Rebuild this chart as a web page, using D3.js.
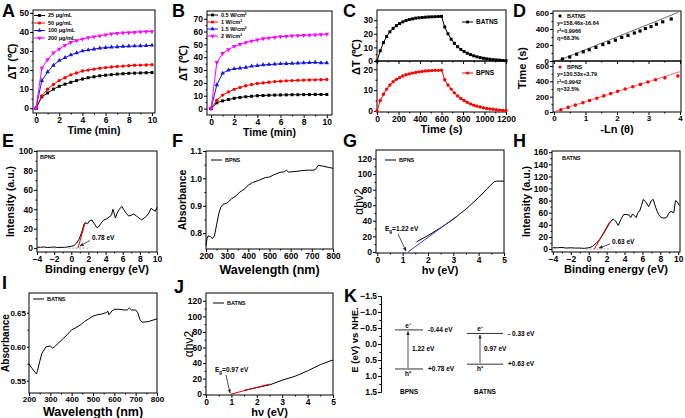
<!DOCTYPE html>
<html>
<head>
<meta charset="utf-8">
<script src="https://cdn.jsdelivr.net/npm/d3@7"></script>
<style>
  body { margin: 0; background: #fff; }
  svg { font-family: "Liberation Sans", Arial, sans-serif; font-weight: bold; }
  .tick text { font-size: 8.5px; font-weight: bold; fill: #000; font-family: "Liberation Sans", Arial, sans-serif; }
  .tick line { stroke: #000; }
  .lbl { font-size: 18px; font-weight: bold; }
  .tiny { font-size: 5.5px; font-weight: bold; }
  .note { font-size: 6.5px; font-weight: bold; }
</style>
</head>
<body>
<svg id="fig" width="685" height="418"></svg>
<script>
// ---- A: concentration series (time in min) ----
const timeMin = [0, 0.5, 1, 1.5, 2, 2.5, 3, 3.5, 4, 4.5, 5, 5.5, 6, 6.5, 7, 7.5, 8, 8.5, 9, 9.5, 10];
const concLabels = ["25 μg/mL", "50 μg/mL", "100  μg/mL", "200  μg/mL"];
const conc25 = [0, 6, 8, 10, 11.5, 12.6, 13.6, 14.5, 15.3, 16, 16.5, 17, 17.3, 17.6, 17.9, 18.1, 18.3, 18.4, 18.5, 18.6, 18.7];
const conc50 = [0, 6.5, 10, 12.5, 14.5, 16, 17.5, 18.5, 19.5, 20, 20.5, 21, 21.3, 21.6, 21.9, 22.1, 22.3, 22.5, 22.6, 22.7, 22.8];
const conc100 = [0, 14.5, 19, 22.5, 25, 26.5, 28, 29, 30, 30.5, 31, 31.5, 31.8, 32, 32.2, 32.4, 32.5, 32.6, 32.7, 32.8, 33];
const conc200 = [0, 21, 25.5, 29, 31, 33, 34.5, 35.5, 36.3, 37, 37.5, 38, 38.5, 39, 39.3, 39.5, 39.7, 39.8, 40, 40.2, 40.2];

// ---- B: power density series ----
const powerLabels = ["0.5 W/cm²", "1 W/cm²", "1.5 W/cm²", "2 W/cm²"];
const pow05 = [0, 4.5, 6, 7, 8, 8.7, 9.2, 9.6, 10, 10.2, 10.4, 10.5, 10.6, 10.7, 10.8, 10.8, 10.9, 10.9, 11, 11, 11];
const pow1 = [0, 6.5, 10.5, 13, 15, 16.5, 17.8, 18.8, 19.5, 20, 20.5, 21, 21.3, 21.6, 21.8, 22, 22.2, 22.3, 22.4, 22.5, 22.6];
const pow15 = [0, 18.5, 27.5, 30, 31, 31.5, 32, 33, 33.5, 34, 34.3, 34.6, 34.9, 35, 35.2, 35.4, 35.6, 35.8, 36, 35.6, 35.5];
const pow2 = [0, 36, 43, 46, 48.5, 50, 51.5, 52.5, 53.5, 54.5, 55, 55.5, 56, 56.3, 56.6, 56.8, 57, 57.2, 57.4, 57.6, 58];

// ---- C: heating / cooling cycle (s) ----
const timeSec = [0, 30, 60, 90, 120, 150, 180, 210, 240, 270, 300, 330, 360, 390, 420, 450, 480, 510, 540, 570, 600,
  630, 660, 690, 720, 750, 780, 810, 840, 870, 900, 930, 960, 990, 1020, 1050, 1080, 1110, 1140, 1170, 1200];
const batnsCycle = [0, 7.5, 13.5, 18, 21.5, 24, 26, 27.5, 28.8, 29.8, 30.5, 31, 31.5, 31.8, 32, 32.2, 32.4, 32.5, 32.6, 32.7, 32.8,
  25, 20, 16, 13, 10.5, 8.5, 7, 5.7, 4.7, 3.8, 3.1, 2.5, 2, 1.6, 1.3, 1, 0.8, 0.6, 0.4, 0.2];
const bpnsCycle = [0, 5, 8, 10.5, 12.5, 14, 15.2, 16, 16.8, 17.4, 17.8, 18.2, 18.5, 18.8, 19, 19.2, 19.3, 19.4, 19.5, 19.5, 19.6,
  15, 12.5, 10.5, 8.7, 7.2, 6, 5, 4.1, 3.4, 2.8, 2.3, 1.9, 1.5, 1.2, 1, 0.8, 0.6, 0.4, 0.3, 0.2];

// ---- D: -Ln(theta) vs time ----
const batnsLnX = [0.27, 0.5, 0.72, 0.93, 1.12, 1.33, 1.55, 1.74, 1.95, 2.15, 2.35, 2.55, 2.73, 2.9, 3.08, 3.25, 3.45, 3.72];
const batnsLnT = [25, 50, 85, 115, 140, 170, 205, 230, 260, 295, 320, 350, 375, 405, 430, 460, 490, 525];
const batnsFit = [158.46, -16.64];
const batnsFitText = ["BATNS", "y=158.46x-16.64", "r²=0.9966", "η=68.3%"];
const bpnsLnX = [0.22, 0.45, 0.68, 0.92, 1.13, 1.36, 1.58, 1.8, 2.02, 2.26, 2.5, 2.74, 2.98, 3.22, 3.52, 3.93];
const bpnsLnT = [30, 60, 90, 120, 150, 180, 210, 240, 270, 300, 330, 360, 390, 420, 445, 470];
const bpnsFit = [130.53, 3.79];
const bpnsFitText = ["BPNS", "y=130.53x+3.79", "r²=0.9942", "η=32.5%"];

// ---- E / H: valence band XPS ----
const bpnsXpsE = [-4, -3.6, -3.2, -2.8, -2.4, -2, -1.6, -1.2, -0.8, -0.4, 0, 0.3, 0.6, 0.9, 1.2, 1.5, 1.7, 1.9, 2.1, 2.4, 2.7, 3.0, 3.2, 3.5, 3.8, 4.1, 4.4, 4.7, 4.85, 5.0, 5.15, 5.35, 5.6, 5.9, 6.1, 6.4, 6.7, 7.0, 7.3, 7.6, 7.9, 8.2, 8.5, 8.8, 9.1, 9.3, 9.6, 9.8, 10];
const bpnsXpsI = [1, 0.8, 1.2, 0.6, 0.8, 1.2, 0.6, 0.8, 0.8, 1.2, 2, 2.5, 5, 9, 16, 25, 26, 25, 28, 29, 25, 21, 22, 26, 29, 30, 32, 34, 40, 36, 31, 36, 40, 43, 40, 36, 33, 34, 35, 33, 31, 29, 31, 33, 37, 41, 39, 38, 42];
const batnsXpsE = [-4, -3.5, -3, -2.5, -2, -1.5, -1, -0.5, 0, 0.4, 0.8, 1.2, 1.6, 2.0, 2.3, 2.6, 2.8, 3.0, 3.3, 3.6, 3.9, 4.2, 4.5, 4.7, 4.9, 5.1, 5.3, 5.5, 5.7, 5.9, 6.1, 6.4, 6.7, 7.0, 7.2, 7.5, 7.8, 8.1, 8.4, 8.7, 9.0, 9.2, 9.5, 9.7, 9.9, 10.1];
const batnsXpsI = [2, 2, 2.5, 1.5, 2, 1.5, 1.5, 1, 2, 4, 9, 15, 24, 34, 42, 48, 49, 46, 39, 49, 57, 57, 56, 52, 58, 55, 52, 60, 63, 72, 82, 77, 70, 80, 82, 68, 57, 52, 51, 52, 60, 62, 60, 80, 78, 72];

// ---- F / I: absorbance spectra ----
const bpnsWl = [200, 205, 210, 220, 230, 240, 250, 260, 270, 280, 300, 320, 340, 360, 380, 400, 420, 450, 480, 500, 520, 550, 570, 580, 590, 620, 650, 680, 710, 720, 730, 750, 780, 800];
const bpnsAbs = [0.755, 0.78, 0.79, 0.788, 0.78, 0.79, 0.83, 0.87, 0.895, 0.905, 0.91, 0.925, 0.935, 0.95, 0.96, 0.975, 0.985, 0.993, 1.003, 1.005, 1.013, 1.022, 1.024, 1.03, 1.023, 1.025, 1.028, 1.03, 1.03, 1.035, 1.048, 1.045, 1.04, 1.037];
const batnsWl = [200, 205, 210, 220, 230, 235, 240, 250, 260, 280, 300, 310, 320, 340, 360, 380, 400, 420, 440, 460, 480, 500, 520, 540, 560, 570, 575, 590, 600, 620, 650, 660, 670, 680, 700, 710, 720, 730, 760, 800];
const batnsAbs = [0.575, 0.572, 0.57, 0.566, 0.562, 0.56, 0.565, 0.578, 0.59, 0.6, 0.601, 0.598, 0.6, 0.606, 0.612, 0.618, 0.625, 0.628, 0.632, 0.637, 0.641, 0.645, 0.647, 0.648, 0.65, 0.652, 0.647, 0.653, 0.655, 0.655, 0.654, 0.654, 0.657, 0.654, 0.654, 0.65, 0.64, 0.636, 0.637, 0.641];

// ---- G / J: Tauc plots ----
const bpnsHv = [1.55, 2, 2.5, 3, 3.3, 3.5, 4, 4.3, 4.6, 4.7, 5];
const bpnsTauc = [13, 21, 31, 42, 50, 55, 70, 80, 90, 91, 91];
const batnsHv = [1.5, 2, 2.5, 3, 3.5, 4, 4.5, 5];
const batnsTauc = [5, 8.5, 12, 18, 23, 30, 38, 44];

// ---- K: band positions ----
const bandNames = ["BPNS", "BATNS"];
const cbEdge = [-0.44, -0.33];
const vbEdge = [0.78, 0.63];
const gapText = ["1.22 eV", "0.97 eV"];
const cbText = ["-0.44 eV", "- 0.33 eV"];
const vbText = ["+0.78 eV", "+0.63 eV"];

const svg = d3.select("#fig");
const defs = svg.append("defs");
defs.append("marker").attr("id", "arr").attr("viewBox", "0 0 10 10").attr("refX", 9).attr("refY", 5)
  .attr("markerWidth", 5).attr("markerHeight", 5).attr("orient", "auto")
  .append("path").attr("d", "M0,1L10,5L0,9Z").attr("fill", "#222");

function clean(sel) {
  sel.select(".domain").remove();
  sel.attr("font-size", null).attr("font-family", null);
}

// half-way ticks between the labelled ones
function minors(ticks) {
  return d3.pairs(ticks).map(([a, b]) => (a + b) / 2);
}

function panel(box, xDom, yDom, o) {
  const g = svg.append("g");
  const x = d3.scaleLinear(xDom, [box.l, box.r]);
  const y = d3.scaleLinear(yDom, [box.b, box.t]);
  g.append("rect").attr("x", box.l).attr("y", box.t).attr("width", box.r - box.l).attr("height", box.b - box.t)
    .attr("fill", "none").attr("stroke", "#000").attr("stroke-width", 1);
  if (o.xTicks) {
    const ax = d3.axisBottom(x).tickValues(o.xTicks).tickSize(3).tickPadding(o.xPad != null ? o.xPad : 0.5);
    ax.tickFormat(o.showX === false ? "" : (o.xFmt || d3.format("")));
    g.append("g").attr("transform", `translate(0,${box.b})`).call(ax).call(clean);
    g.append("g").attr("transform", `translate(0,${box.b})`)
      .call(d3.axisBottom(x).tickValues(minors(o.xTicks)).tickSize(1.5).tickFormat("")).call(clean);
  }
  if (o.yTicks) {
    const ay = d3.axisLeft(y).tickValues(o.yTicks).tickSize(o.yTick || 3).tickPadding(1).tickFormat(o.yFmt || d3.format(""));
    g.append("g").attr("transform", `translate(${box.l},0)`).call(ay).call(clean);
    g.append("g").attr("transform", `translate(${box.l},0)`)
      .call(d3.axisLeft(y).tickValues(minors(o.yTicks)).tickSize(1.5).tickFormat("")).call(clean);
  }
  if (o.xTitle) {
    g.append("text").attr("x", (box.l + box.r) / 2).attr("y", box.b + (o.xTitleDy || 21))
      .style("font-size", (o.xSize || 11) + "px").style("font-weight", "bold")
      .attr("text-anchor", "middle").text(o.xTitle);
  }
  if (o.yTitle) {
    g.append("text").attr("text-anchor", "middle")
      .style("font-size", (o.ySize || 11) + "px").style("font-weight", o.yWeight || "bold")
      .attr("transform", `translate(${o.yTitleX},${o.yTitleY || (box.t + box.b) / 2}) rotate(-90)`)
      .attr("dy", "0.35em").text(o.yTitle);
  }
  return { g, x, y, box };
}

function series(p, xs, ys, color, sym, rot) {
  const line = d3.line().x((d, i) => p.x(xs[i])).y(d => p.y(d));
  p.g.append("path").datum(ys).attr("d", line).attr("fill", "none").attr("stroke", color).attr("stroke-width", 1);
  if (sym) {
    p.g.append("g").selectAll("path").data(ys).join("path")
      .attr("transform", (d, i) => `translate(${p.x(xs[i])},${p.y(d)}) rotate(${rot || 0})`)
      .attr("d", d3.symbol(sym, 9)).attr("fill", color);
  }
}

function letter(t, x, y) {
  svg.append("text").attr("class", "lbl").attr("x", x).attr("y", y).text(t);
}

function legend(p, items, x0, y0, step, cls) {
  items.forEach((it, i) => {
    const yy = y0 + i * step;
    p.g.append("line").attr("x1", x0).attr("x2", x0 + 11).attr("y1", yy).attr("y2", yy)
      .attr("stroke", it.color).attr("stroke-width", 1);
    if (it.sym) {
      p.g.append("path").attr("transform", `translate(${x0 + 5.5},${yy}) rotate(${it.rot || 0})`)
        .attr("d", d3.symbol(it.sym, 8)).attr("fill", it.color);
    }
    p.g.append("text").attr("class", cls || "tiny").attr("x", x0 + 14).attr("y", yy).attr("dy", "0.35em").text(it.label);
  });
}

function arrow(g, x1, y1, x2, y2) {
  g.append("line").attr("x1", x1).attr("y1", y1).attr("x2", x2).attr("y2", y2)
    .attr("stroke", "#222").attr("stroke-width", 0.8).attr("marker-end", "url(#arr)");
}

const cols = ["#000", "#f00", "#1515e0", "#f0f"];
const syms = [[d3.symbolSquare, 0], [d3.symbolCircle, 0], [d3.symbolTriangle, 0], [d3.symbolTriangle, 180]];

// ---------- A ----------
const pA = panel({ l: 33, r: 155, t: 10, b: 113 }, [-0.26, 10.26], [-2.5, 51.5],
  { xTicks: [0, 2, 4, 6, 8, 10], yTicks: [0, 10, 20, 30, 40, 50], xTitle: "Time (min)", xSize: 10.5, yTitle: "ΔT (℃)", yTitleX: 12 });
[conc25, conc50, conc100, conc200].forEach((s, i) => series(pA, timeMin, s, cols[i], syms[i][0], syms[i][1]));
legend(pA, concLabels.map((l, i) => ({ label: l, color: cols[i], sym: syms[i][0], rot: syms[i][1] })), 34, 15.5, 7.5);
letter("A", 2, 16.5);

// ---------- B ----------
const pB = panel({ l: 207, r: 332, t: 11, b: 115 }, [-0.35, 10.45], [-5, 76],
  { xTicks: [0, 2, 4, 6, 8, 10], yTicks: [0, 10, 20, 30, 40, 50, 60, 70], xTitle: "Time (min)", xSize: 10.5, yTitle: "ΔT (℃)", yTitleX: 183 });
[pow05, pow1, pow15, pow2].forEach((s, i) => series(pB, timeMin, s, cols[i], syms[i][0], syms[i][1]));
legend(pB, powerLabels.map((l, i) => ({ label: l, color: cols[i], sym: syms[i][0], rot: syms[i][1] })), 207, 15, 7);
letter("B", 172, 16.5);

// ---------- C ----------
const pC1 = panel({ l: 377, r: 506, t: 10, b: 61 }, [0, 1200], [0, 37.5],
  { xTicks: [0, 200, 400, 600, 800, 1000, 1200], showX: false, yTicks: [0, 10, 20, 30] });
const pC2 = panel({ l: 377, r: 506, t: 61, b: 112 }, [0, 1200], [-0.5, 24],
  { xTicks: [0, 200, 400, 600, 800, 1000, 1200], yTicks: [0, 10, 20], xTitle: "Time (s)", yTitle: "ΔT (℃)", yTitleX: 356, yTitleY: 57 });
series(pC1, timeSec, batnsCycle, "#000", d3.symbolSquare);
series(pC2, timeSec, bpnsCycle, "#f00", d3.symbolCircle);
legend(pC1, [{ label: "BATNS", color: "#000", sym: d3.symbolSquare }], 462, 22, 0, "note");
legend(pC2, [{ label: "BPNS", color: "#f00", sym: d3.symbolCircle }], 462, 73, 0, "note");
letter("C", 343, 16.5);

// ---------- D ----------
const pD1 = panel({ l: 553, r: 681, t: 11, b: 61 }, [-0.03, 4.03], [0, 625],
  { xTicks: [0, 1, 2, 3, 4], showX: false, yTicks: [0, 200, 400, 600] });
const pD2 = panel({ l: 553, r: 681, t: 61, b: 112 }, [-0.03, 4.03], [0, 665],
  { xTicks: [0, 1, 2, 3, 4], yTicks: [0, 200, 400, 600], xTitle: "-Ln (θ)", yTitle: "Time (s)", yTitleX: 522, yTitleY: 68 });
pD1.g.selectAll(".tick text").style("font-size", "8px");
pD2.g.selectAll(".tick text").style("font-size", "8px");
function fitLine(p, fit, x0, x1, color) {
  const t0 = Math.max(fit[0] * x0 + fit[1], 0);
  p.g.append("line").attr("x1", p.x((t0 - fit[1]) / fit[0])).attr("y1", p.y(t0))
    .attr("x2", p.x(x1)).attr("y2", p.y(fit[0] * x1 + fit[1])).attr("stroke", color).attr("stroke-width", 0.8);
}
fitLine(pD1, batnsFit, 0, 3.95, "#444");
fitLine(pD2, bpnsFit, 0, 4.03, "#f44");
pD1.g.append("g").selectAll("path").data(batnsLnT).join("path")
  .attr("transform", (d, i) => `translate(${pD1.x(batnsLnX[i])},${pD1.y(d)})`).attr("d", d3.symbol(d3.symbolSquare, 10)).attr("fill", "#000");
pD2.g.append("g").selectAll("path").data(bpnsLnT).join("path")
  .attr("transform", (d, i) => `translate(${pD2.x(bpnsLnX[i])},${pD2.y(d)})`).attr("d", d3.symbol(d3.symbolCircle, 10)).attr("fill", "#f00");
function fitNote(p, lines, color, sym, y0) {
  p.g.append("path").attr("transform", `translate(${560},${y0})`).attr("d", d3.symbol(sym, 8)).attr("fill", color);
  lines.forEach((t, i) => p.g.append("text").attr("class", "tiny").attr("x", i === 0 ? 567 : 557)
    .attr("y", y0 + i * 7.5).attr("dy", "0.35em").text(t));
}
fitNote(pD1, batnsFitText, "#000", d3.symbolSquare, 16);
fitNote(pD2, bpnsFitText, "#f00", d3.symbolCircle, 67);
letter("D", 513, 16.5);

// ---------- E ----------
const pE = panel({ l: 37, r: 157, t: 151, b: 252 }, [-4, 10], [-4, 100],
  { xTicks: [-4, -2, 0, 2, 4, 6, 8, 10], yTicks: [0, 20, 40, 60, 80, 100], xTitle: "Binding energy (eV)", yTitle: "Intensity (a.u.)", ySize: 10.5, yTitleX: 10 });
series(pE, bpnsXpsE, bpnsXpsI, "#000");
pE.g.append("line").attr("x1", pE.x(-0.3)).attr("x2", pE.x(2.2)).attr("y1", pE.y(0)).attr("y2", pE.y(0))
  .attr("stroke", "#777").attr("stroke-dasharray", "2,1.5").attr("stroke-width", 0.7);
pE.g.append("line").attr("x1", pE.x(0.78)).attr("y1", pE.y(0)).attr("x2", pE.x(1.65)).attr("y2", pE.y(27))
  .attr("stroke", "#e00").attr("stroke-width", 1);
pE.g.append("text").attr("class", "note").attr("x", 92).attr("y", 240).text("0.78 eV");
arrow(pE.g, 90, 240.5, 80, 246);
pE.g.append("text").attr("class", "tiny").attr("x", 40).attr("y", 159).text("BPNS");
letter("E", 2, 147);

// ---------- F ----------
const pF = panel({ l: 206, r: 333, t: 151, b: 249 }, [200, 800], [0.742, 1.1],
  { xTicks: [200, 300, 400, 500, 600, 700, 800], xPad: 1, yTicks: [0.8, 0.9, 1.0, 1.1], yFmt: d3.format(".1f"), xTitle: "Wavelength (nm)", xSize: 12.5, xTitleDy: 24.5, yTitle: "Absorbance", ySize: 10.5, yTitleX: 182 });
series(pF, bpnsWl, bpnsAbs, "#000");
legend(pF, [{ label: "BPNS", color: "#000" }], 211, 160, 0);
letter("F", 172, 147);

// ---------- G ----------
const pG = panel({ l: 376, r: 504, t: 150, b: 253 }, [-0.05, 5], [-1.4, 131],
  { xTicks: [0, 1, 2, 3, 4, 5], yTicks: [0, 20, 40, 60, 80, 100, 120], xTitle: "hν (eV)", yTitle: "αhν2", ySize: 12, yWeight: "normal", yTitleX: 359 });
series(pG, bpnsHv, bpnsTauc, "#000");
pG.g.append("line").attr("x1", pG.x(1.22)).attr("y1", pG.y(0)).attr("x2", pG.x(3.1)).attr("y2", pG.y(45))
  .attr("stroke", "#3a3ad0").attr("stroke-width", 1);
pG.g.append("text").attr("class", "note").attr("x", 385).attr("y", 231).html('E<tspan font-size="4.5px" dy="1.5">g</tspan><tspan dy="-1.5">=1.22 eV</tspan>');
arrow(pG.g, 398, 234, 406, 251);
legend(pG, [{ label: "BPNS", color: "#000" }], 385, 160, 0);
letter("G", 343, 147);

// ---------- H ----------
const pH = panel({ l: 552, r: 680, t: 151, b: 252 }, [-4.1, 10.2], [-5, 162],
  { xTicks: [-4, -2, 0, 2, 4, 6, 8, 10], yTicks: [0, 20, 40, 60, 80, 100, 120, 140, 160], xTitle: "Binding energy (eV)", yTitle: "Intensity (a.u.)", ySize: 10.5, yTitleX: 526 });
series(pH, batnsXpsE, batnsXpsI, "#000");
pH.g.append("line").attr("x1", pH.x(-0.3)).attr("x2", pH.x(2.5)).attr("y1", pH.y(0)).attr("y2", pH.y(0))
  .attr("stroke", "#777").attr("stroke-dasharray", "2,1.5").attr("stroke-width", 0.7);
pH.g.append("line").attr("x1", pH.x(0.63)).attr("y1", pH.y(0)).attr("x2", pH.x(2.35)).attr("y2", pH.y(45))
  .attr("stroke", "#e00").attr("stroke-width", 1);
pH.g.append("text").attr("class", "note").attr("x", 612).attr("y", 244).text("0.63 eV");
arrow(pH.g, 610, 244, 599, 248);
pH.g.append("text").attr("class", "tiny").attr("x", 562).attr("y", 160).text("BATNS");
letter("H", 513, 147);

// ---------- I ----------
const pI = panel({ l: 29, r: 157, t: 293, b: 393 }, [200, 800], [0.532, 0.679],
  { xTicks: [200, 300, 400, 500, 600, 700, 800], xPad: 0, yTicks: [0.55, 0.6, 0.65], yTick: 2, yFmt: d3.format(".2f"), xTitle: "Wavelength (nm)", xSize: 12.5, xTitleDy: 22.5, yTitle: "Absorbance", ySize: 10, yTitleX: 5 });
pI.g.selectAll(".tick text").style("font-size", "8px");
series(pI, batnsWl, batnsAbs, "#000");
legend(pI, [{ label: "BATNS", color: "#000" }], 33, 299, 0);
letter("I", 2, 289);

// ---------- J ----------
const pJ = panel({ l: 206, r: 333, t: 293, b: 395 }, [0, 5], [-1, 130],
  { xTicks: [0, 1, 2, 3, 4, 5], yTicks: [0, 20, 40, 60, 80, 100, 120], xTitle: "hν (eV)", yTitle: "αhν2", ySize: 12, yWeight: "normal", yTitleX: 189 });
series(pJ, batnsHv, batnsTauc, "#000");
pJ.g.append("line").attr("x1", pJ.x(0.97)).attr("y1", pJ.y(0)).attr("x2", pJ.x(2.5)).attr("y2", pJ.y(13))
  .attr("stroke", "#e00").attr("stroke-width", 1);
pJ.g.append("text").attr("class", "note").attr("x", 215).attr("y", 372).html('E<tspan font-size="4.5px" dy="1.5">g</tspan><tspan dy="-1.5">=0.97 eV</tspan>');
arrow(pJ.g, 226, 375, 230, 393);
legend(pJ, [{ label: "BATNS", color: "#000" }], 213, 303, 0);
letter("J", 174, 293);

// ---------- K ----------
const gK = svg.append("g");
const yK = d3.scaleLinear([-1.5, 1.5], [296, 392]);
gK.append("g").attr("transform", "translate(381,0)")
  .call(d3.axisLeft(yK).tickValues([-1.5, -1, -0.5, 0, 0.5, 1, 1.5]).tickFormat(d3.format(".1f")).tickSize(3).tickPadding(1))
  .call(s => s.attr("font-size", null).attr("font-family", null))
  .call(s => s.select(".domain").attr("stroke", "#000"));
gK.append("g").attr("transform", "translate(381,0)")
  .call(d3.axisLeft(yK).tickValues(minors([-1.5, -1, -0.5, 0, 0.5, 1, 1.5])).tickSize(1.5).tickFormat("")).call(clean);
gK.append("text").style("font-size", "9.5px").style("font-weight", "bold").attr("text-anchor", "middle")
  .attr("transform", "translate(355,340) rotate(-90)").attr("dy", "0.35em").text("E (eV) vs NHE.");
const xK = d3.scalePoint(bandNames, [409, 485]);
const halfW = [14, 18];
bandNames.forEach((n, i) => {
  const cx = xK(n);
  const ax = cx - 1 - i * 4;
  [cbEdge[i], vbEdge[i]].forEach(v => gK.append("line").attr("x1", cx - halfW[i]).attr("x2", cx + halfW[i])
    .attr("y1", yK(v)).attr("y2", yK(v)).attr("stroke", "#333").attr("stroke-width", 1));
  arrow(gK, ax, yK(vbEdge[i]) - 1, ax, yK(cbEdge[i]) + 1.5);
  gK.append("text").attr("class", "note").attr("x", ax).attr("y", yK(cbEdge[i]) - 2).attr("text-anchor", "middle").text("e⁻");
  gK.append("text").attr("class", "note").attr("x", ax).attr("y", yK(vbEdge[i]) + 7).attr("text-anchor", "middle").text("h⁺");
  gK.append("text").attr("class", "note").attr("x", ax + 4).attr("y", (yK(cbEdge[i]) + yK(vbEdge[i])) / 2 + 2).text(gapText[i]);
  gK.append("text").attr("class", "note").attr("x", cx + halfW[i] + 5).attr("y", yK(cbEdge[i])).attr("dy", "0.35em").text(cbText[i]);
  gK.append("text").attr("class", "note").attr("x", cx + halfW[i] + 5).attr("y", yK(vbEdge[i])).attr("dy", "0.35em").text(vbText[i]);
  gK.append("text").attr("class", "note").attr("x", cx).attr("y", 394).attr("text-anchor", "middle").text(n);
});
letter("K", 344, 302);
</script>
</body>
</html>
